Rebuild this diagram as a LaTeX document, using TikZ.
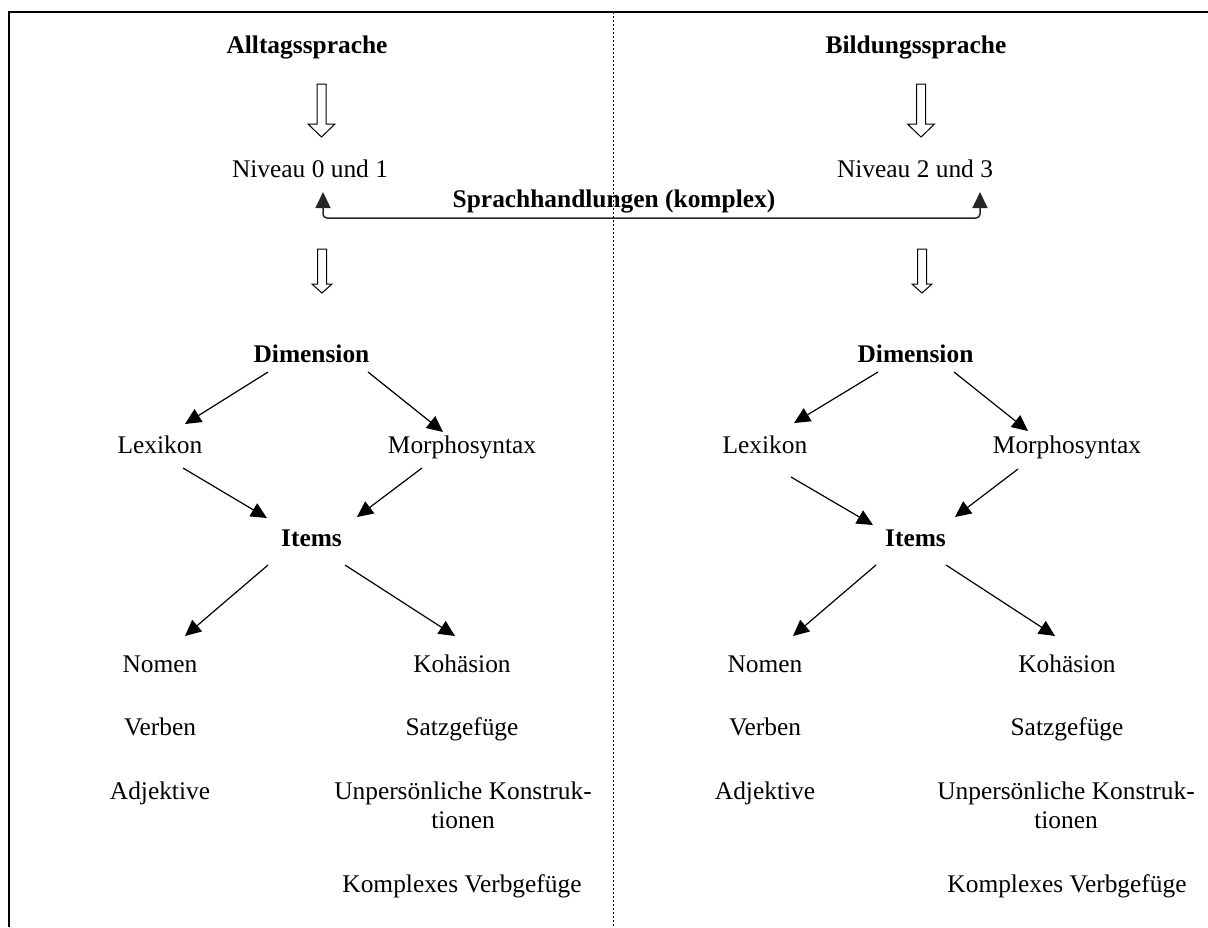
\documentclass[tikz,border=0pt]{standalone}
\usepackage{fontspec}
\setmainfont{Liberation Serif}
\usetikzlibrary{arrows.meta, positioning, calc}
% open block arrow pointing down: top point, shaft length, head length, half shaft, half head
\newcommand{\hollowdown}[5]{%
  \draw[hollow] #1 ++(-#4,0) -- ++(0,#2) -- ++({#4-#5},0) -- ++(#5,#3)
    -- ++(#5,-#3) -- ++({#4-#5},0) -- ++(0,-#2) -- cycle;}

\begin{document}
\begin{tikzpicture}[x=0.5pt,y=-0.5pt,>={Triangle[length=8pt,width=7.5pt]},
    every node/.style={inner sep=0pt,anchor=base,font=\fontsize{12.7}{14.5}\selectfont},
    title node/.style={font=\fontsize{12.7}{14.5}\selectfont\bfseries},
    hollow/.style={draw,line width=0.5pt,fill=white},
    link/.style={->,line width=0.6pt}]
  \useasboundingbox (0,0) rectangle (1208,927);
  % frame and divider
  \draw[line width=1pt] (8.5,927) -- (8.5,12) -- (1208,12);
  \draw[line width=0.5pt,dash pattern=on 1pt off 1pt] (613,12) -- (613,927);

  \node[title node] (alltag) at (307,53) {Alltagssprache};
  \node[title node] (bildung) at (916,53) {Bildungssprache};
  \node (niv0) at (310,177) {Niveau 0 und 1};
  \node (niv2) at (915,177) {Niveau 2 und 3};
  \node[title node] (sprach) at (614,207) {Sprachhandlungen (komplex)};

  \hollowdown{([shift={(14.5,31)}]alltag.base)}{40}{13}{4.5}{13.5}
  \hollowdown{([shift={(5,31)}]bildung.base)}{40}{13}{4.5}{13.5}
  \draw[<->,black!85,line width=0.75pt,rounded corners=2pt]
    ([shift={(13,15)}]niv0.base) -- ++(0,26) -| ([shift={(65,15)}]niv2.base);
  \hollowdown{([shift={(12,72)}]niv0.base)}{35}{9}{4.5}{10}
  \hollowdown{([shift={(7,72)}]niv2.base)}{35}{9}{4.5}{10}

  % left half
  \node[title node] (dimL) at (311.5,362) {Dimension};
  \node (lexL) at (160,453) {Lexikon};
  \node (morL) at (462,453) {Morphosyntax};
  \node[title node] (itemsL) at (311.5,546) {Items};
  \node (nomL) at (160,672) {Nomen};
  \node (kohL) at (462,672) {Kohäsion};
  \node (verL) [below=31.5pt of nomL.base,anchor=base] {Verben};
  \node (satzL) [below=31.5pt of kohL.base,anchor=base] {Satzgefüge};
  \node (adjL) [below=32pt of verL.base,anchor=base] {Adjektive};
  \node[align=center] (unpL) at (463,828) {Unpersönliche Konstruk-\\tionen};
  \node (kompL) at (462,892) {Komplexes Verbgefüge};

  \draw[link] ([shift={(-43.5,10)}]dimL.base) -- ([shift={(25,-29)}]lexL.base);
  \draw[link] ([shift={(56.5,10)}]dimL.base) -- ([shift={(-19,-21)}]morL.base);
  \draw[link] ([shift={(23,15)}]lexL.base) -- ([shift={(-44.5,-28)}]itemsL.base);
  \draw[link] ([shift={(-40,15)}]morL.base) -- ([shift={(45.5,-29)}]itemsL.base);
  \draw[link] ([shift={(-43.5,19)}]itemsL.base) -- ([shift={(25,-36)}]nomL.base);
  \draw[link] ([shift={(33.5,19)}]itemsL.base) -- ([shift={(-7,-36)}]kohL.base);

  % right half
  \node[title node] (dimR) at (915.5,362) {Dimension};
  \node (lexR) at (765,453) {Lexikon};
  \node (morR) at (1067,453) {Morphosyntax};
  \node[title node] (itemsR) at (915.5,546) {Items};
  \node (nomR) at (765,672) {Nomen};
  \node (kohR) at (1067,672) {Kohäsion};
  \node (verR) [below=31.5pt of nomR.base,anchor=base] {Verben};
  \node (satzR) [below=31.5pt of kohR.base,anchor=base] {Satzgefüge};
  \node (adjR) [below=32pt of verR.base,anchor=base] {Adjektive};
  \node[align=center] (unpR) at (1066,828) {Unpersönliche Konstruk-\\tionen};
  \node (kompR) at (1067,892) {Komplexes Verbgefüge};

  \draw[link] ([shift={(-37.5,10)}]dimR.base) -- ([shift={(29,-30)}]lexR.base);
  \draw[link] ([shift={(38.5,10)}]dimR.base) -- ([shift={(-39,-22)}]morR.base);
  \draw[link] ([shift={(26,24)}]lexR.base) -- ([shift={(-42.5,-21)}]itemsR.base);
  \draw[link] ([shift={(-49,16)}]morR.base) -- ([shift={(39.5,-29)}]itemsR.base);
  \draw[link] ([shift={(-39.5,19)}]itemsR.base) -- ([shift={(28,-36)}]nomR.base);
  \draw[link] ([shift={(30.5,19)}]itemsR.base) -- ([shift={(-12,-36)}]kohR.base);
\end{tikzpicture}
\end{document}
